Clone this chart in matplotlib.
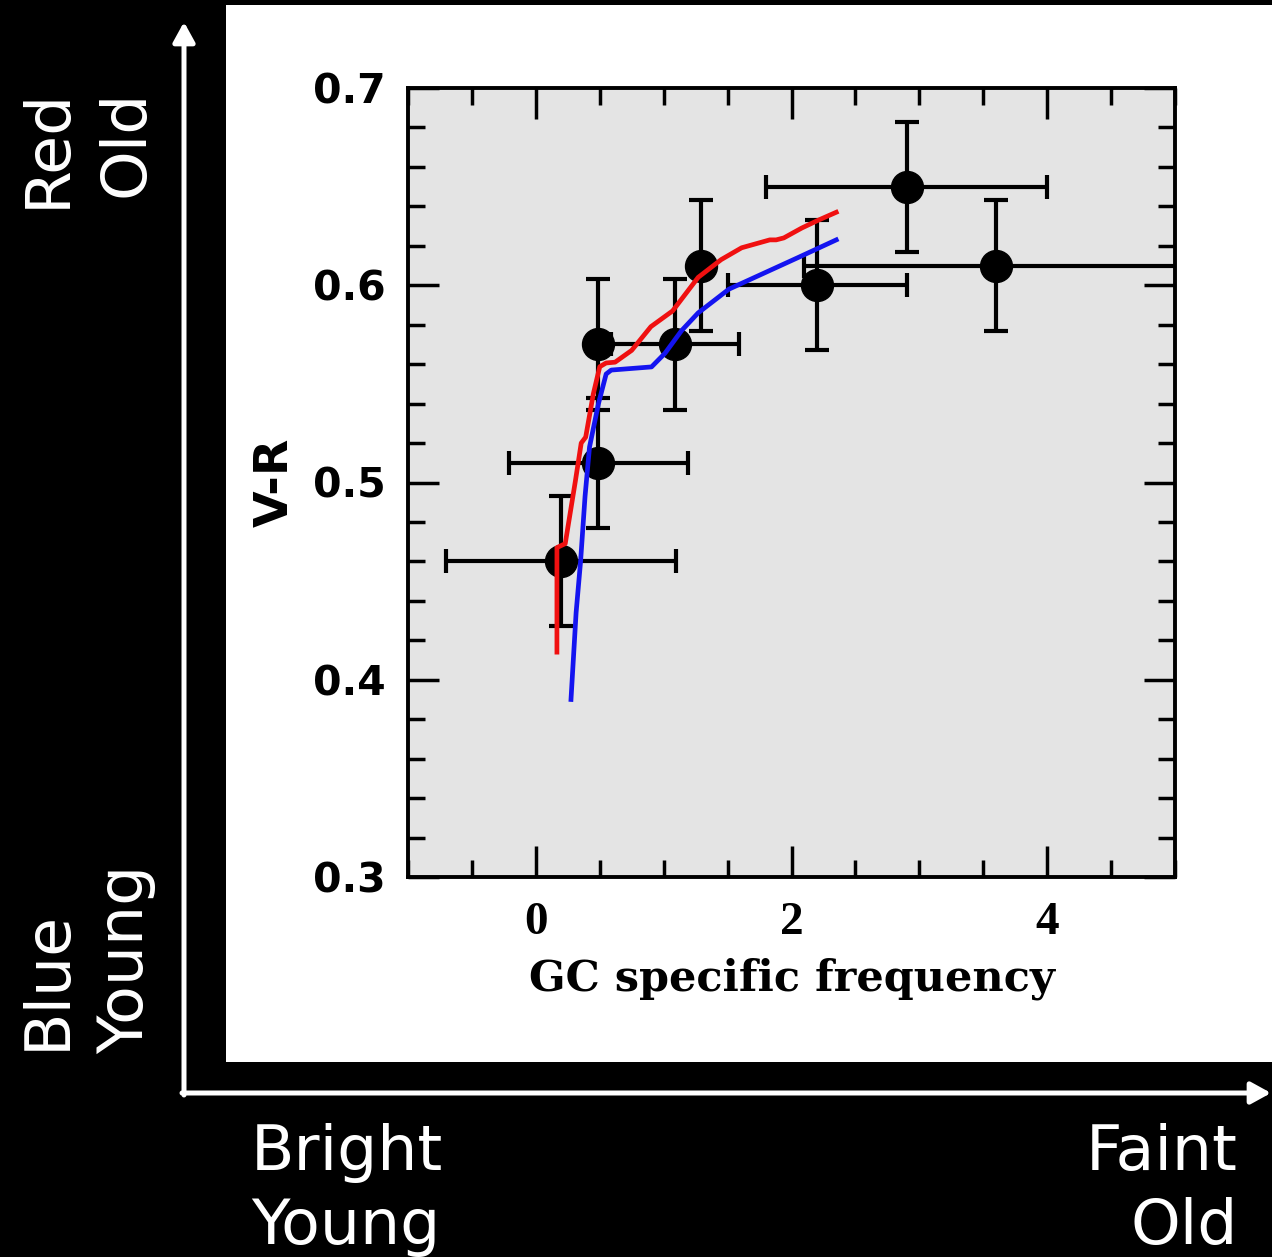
import matplotlib
matplotlib.use("Agg")
import matplotlib.pyplot as plt
from matplotlib.patches import Rectangle
from matplotlib.ticker import MultipleLocator, FixedLocator

# Globular-cluster specific frequency against integrated V-R colour
sn = [0.2, 0.49, 0.49, 1.09, 1.29, 2.2, 2.9, 3.6]
vr = [0.46, 0.51, 0.57, 0.57, 0.61, 0.60, 0.65, 0.61]
sn_err = [0.9, 0.7, 0.0, 0.5, 0.0, 0.7, 1.1, 1.5]
vr_err = [0.033, 0.033, 0.033, 0.033, 0.033, 0.033, 0.033, 0.033]

# Model tracks
red_sn = [0.165, 0.165, 0.23, 0.31, 0.355, 0.39, 0.45, 0.50, 0.55, 0.62, 0.75,
          0.90, 1.07, 1.27, 1.45, 1.61, 1.83, 1.88, 1.94, 2.08, 2.21, 2.35]
red_vr = [0.414, 0.467, 0.469, 0.501, 0.520, 0.523, 0.545, 0.5587, 0.5606, 0.561,
          0.567, 0.579, 0.587, 0.604, 0.613, 0.619, 0.623, 0.623, 0.624, 0.629,
          0.633, 0.637]
blue_sn = [0.275, 0.315, 0.35, 0.385, 0.42, 0.49, 0.55, 0.59, 0.905, 1.01, 1.14,
           1.27, 1.51, 1.78, 2.05, 2.35]
blue_vr = [0.390, 0.434, 0.460, 0.493, 0.518, 0.540, 0.555, 0.557, 0.5586, 0.5655,
           0.577, 0.586, 0.598, 0.606, 0.614, 0.623]

x_ticks = [0, 2, 4]
y_ticks = [0.3, 0.4, 0.5, 0.6, 0.7]

W, H = 1272, 1257
fig = plt.figure(figsize=(W / 100, H / 100), dpi=100, facecolor="black")

# Background layer in pixel units: white panel, axis arrows, annotations
bg = fig.add_axes([0, 0, 1, 1], zorder=0)
bg.set_xlim(0, W)
bg.set_ylim(H, 0)
bg.axis("off")
bg.add_patch(Rectangle((226, 5), W - 226, 1057, facecolor="white", edgecolor="none"))

arrow_kw = dict(arrowstyle="-|>,head_length=0.4,head_width=0.22", color="white",
                lw=3.6, mutation_scale=30, shrinkA=0, shrinkB=0)
bg.annotate("", xy=(184, 22), xytext=(184, 1095), arrowprops=arrow_kw)
bg.annotate("", xy=(1271, 1093), xytext=(182, 1093), arrowprops=arrow_kw)

txt = dict(color="white", fontsize=45.5, family="DejaVu Sans")
bg.text(65, 88, "Red", rotation=90, rotation_mode="anchor", ha="right", va="baseline", **txt)
bg.text(143, 90, "Old", rotation=90, rotation_mode="anchor", ha="right", va="baseline", **txt)
bg.text(65, 1050, "Blue", rotation=90, rotation_mode="anchor", ha="left", va="baseline", **txt)
bg.text(143, 1054, "Young", rotation=90, rotation_mode="anchor", ha="left", va="baseline", **txt)
bg.text(251, 1170, "Bright", ha="left", va="baseline", **txt)
bg.text(251, 1244, "Young", ha="left", va="baseline", **txt)
bg.text(1238, 1170, "Faint", ha="right", va="baseline", **txt)
bg.text(1238, 1244, "Old", ha="right", va="baseline", **txt)

# Main plot
ax = fig.add_axes([408 / W, 1 - 877 / H, 767 / W, 789 / H], zorder=1)
ax.set_facecolor("#e4e4e4")
ax.set_xlim(-1, 5)
ax.set_ylim(0.3, 0.7)

ax.errorbar(sn, vr, xerr=sn_err, yerr=vr_err, fmt="o", color="black", ms=23,
            elinewidth=3, capsize=8.5, capthick=3, zorder=2)
ax.plot(red_sn, red_vr, color="#f01010", lw=3.4, zorder=3)
ax.plot(blue_sn, blue_vr, color="#1414f0", lw=3.4, zorder=3)

ax.xaxis.set_major_locator(FixedLocator(x_ticks))
ax.xaxis.set_minor_locator(MultipleLocator(0.5))
ax.yaxis.set_major_locator(FixedLocator(y_ticks))
ax.yaxis.set_minor_locator(MultipleLocator(0.02))
ax.tick_params(which="both", direction="in", top=True, right=True, width=2.5, color="black")
ax.tick_params(which="major", length=22)
ax.tick_params(which="minor", length=12)
ax.tick_params(axis="y", which="major", pad=16)
ax.tick_params(axis="x", which="major", pad=18)
for s in ax.spines.values():
    s.set_linewidth(2.8)

ax.set_yticklabels(["0.3", "0.4", "0.5", "0.6", "0.7"])
for lab in ax.get_yticklabels():
    lab.set_fontfamily("DejaVu Sans")
    lab.set_fontweight("bold")
    lab.set_fontsize(29.5)
ax.set_xticklabels(["0", "2", "4"])
for lab in ax.get_xticklabels():
    lab.set_fontfamily("Liberation Serif")
    lab.set_fontweight("bold")
    lab.set_fontsize(34)

ax.set_xlabel("GC specific frequency", fontfamily="DejaVu Serif", fontweight="bold",
              fontsize=31, labelpad=10)
ax.set_ylabel("V-R", fontfamily="DejaVu Sans", fontweight="bold", fontsize=34, labelpad=11)

fig.savefig("out.png", dpi=100, facecolor="black")
